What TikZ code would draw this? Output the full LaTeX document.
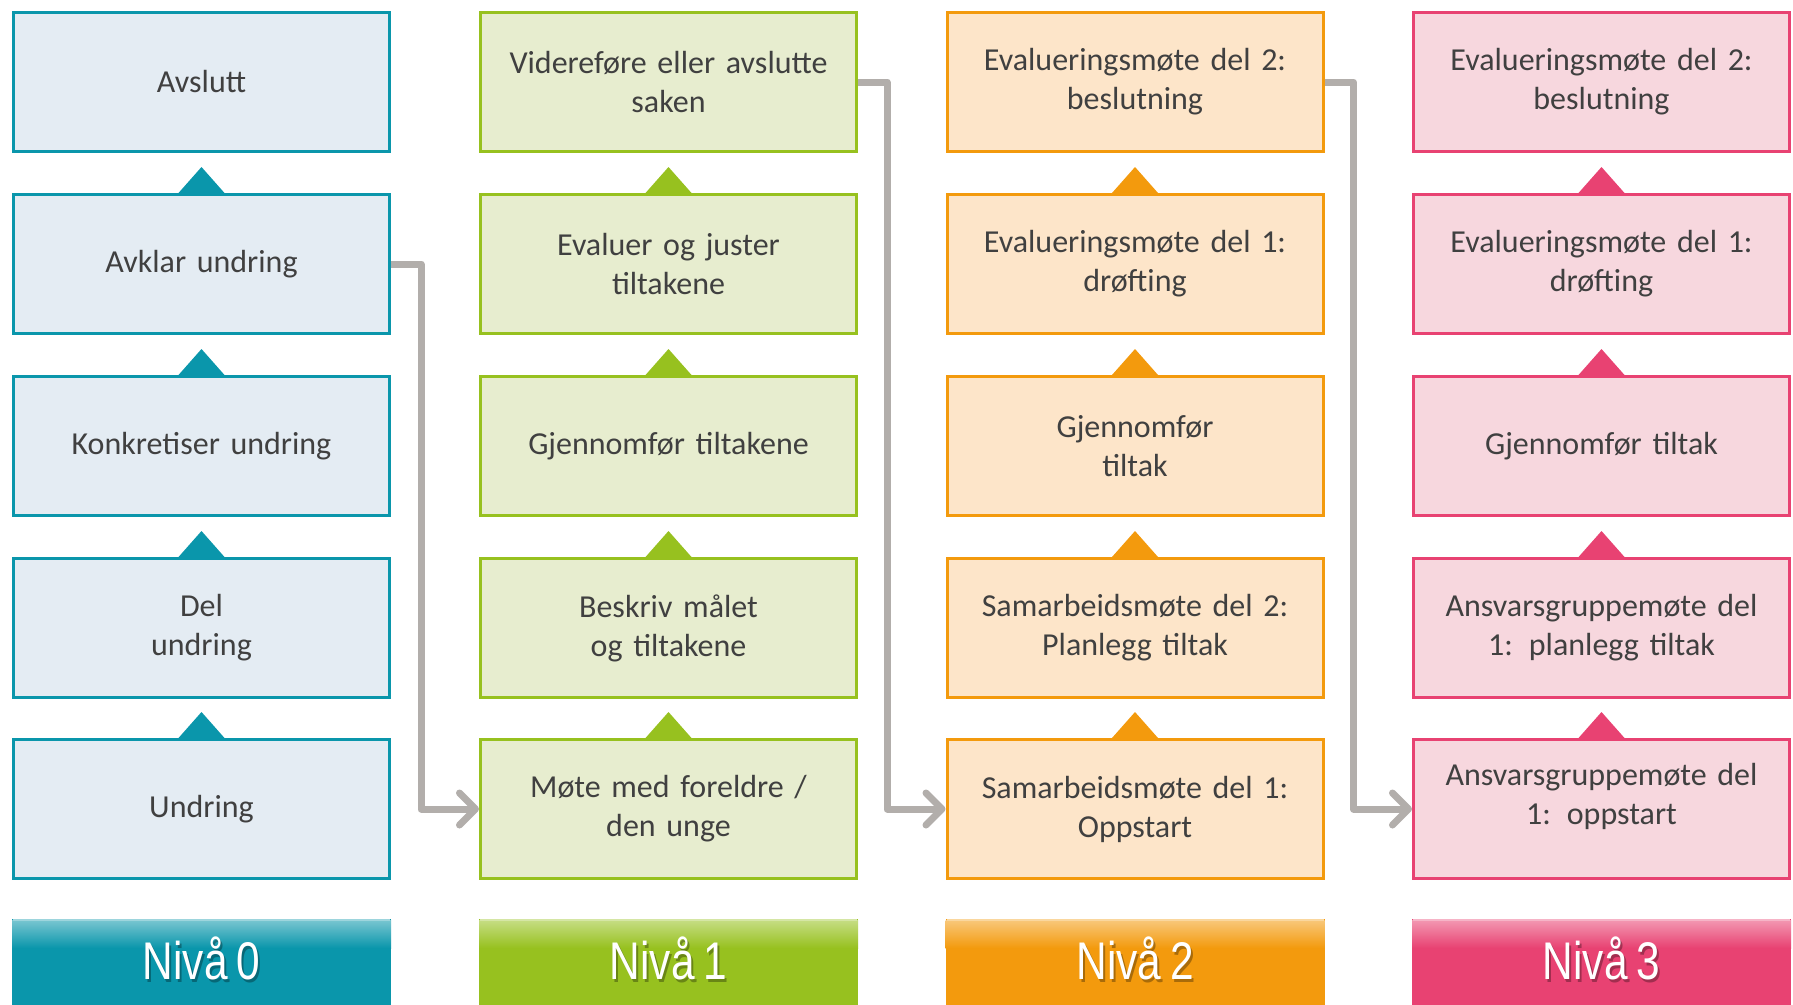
\documentclass[tikz,border=0pt]{standalone}
\usepackage{fontspec}
\setmainfont{Carlito}
\newfontfamily\hdrfont[FakeStretch=0.8]{Liberation Sans}
\usetikzlibrary{arrows.meta}
\definecolor{tealB}{HTML}{0A96AB}
\definecolor{tealF}{HTML}{E4ECF3}
\definecolor{greenB}{HTML}{97C11F}
\definecolor{greenF}{HTML}{E7EDCF}
\definecolor{orangeB}{HTML}{F39A0D}
\definecolor{orangeF}{HTML}{FDE5C9}
\definecolor{pinkB}{HTML}{E84272}
\definecolor{pinkF}{HTML}{F7D7DE}
\definecolor{conn}{HTML}{B2AEAB}
\definecolor{txt}{HTML}{404040}
\begin{document}
\begin{tikzpicture}[x=1pt,y=-1pt,
  stepbox/.style={draw=#1B, fill=#1F, line width=3pt, minimum width=376pt,
    minimum height=139pt, inner sep=0pt, text width=360pt, align=center,
    font=\fontsize{32}{39}\selectfont, text=txt},
  uptri/.style={fill=#1B},
  hdr/.style={fill=#1B, draw=none},
  hdrtext/.style={font=\hdrfont\fontsize{53}{58}\selectfont, text=white, inner sep=0pt},
  hdrshadow/.style={font=\hdrfont\fontsize{53}{58}\selectfont, text=black, opacity=0.3, inner sep=0pt},
  connline/.style={draw=conn, line width=7pt, line join=round,
    -{Straight Barb[length=16pt, width=32pt, round]}}
]
\useasboundingbox (0,0) rectangle (1793,1004);
\fill[white] (0,0) rectangle (1793,1004);

% column 0
\node[stepbox=teal] (a0) at (201.5,82) {Avslutt};
\node[stepbox=teal] (a1) at (201.5,264) {Avklar undring};
\node[stepbox=teal] (a2) at (201.5,446) {Konkretiser undring};
\node[stepbox=teal] (a3) at (201.5,628) {Del\\undring};
\node[stepbox=teal] (a4) at (201.5,809) {Undring};
% column 1
\node[stepbox=green] (b0) at (668.5,82) {Videreføre eller avslutte\\saken};
\node[stepbox=green] (b1) at (668.5,264) {Evaluer og juster\\tiltakene};
\node[stepbox=green] (b2) at (668.5,446) {Gjennomfør tiltakene};
\node[stepbox=green] (b3) at (668.5,628) {Beskriv målet\\og tiltakene};
\node[stepbox=green] (b4) at (668.5,809) {Møte med foreldre /\\den unge};
% column 2
\node[stepbox=orange] (c0) at (1135,82) {Evalueringsmøte del 2:\\beslutning};
\node[stepbox=orange] (c1) at (1135,264) {Evalueringsmøte del 1:\\drøfting};
\node[stepbox=orange] (c2) at (1135,446) {Gjennomfør\\tiltak};
\node[stepbox=orange] (c3) at (1135,628) {Samarbeidsmøte del 2:\\Planlegg tiltak};
\node[stepbox=orange] (c4) at (1135,809) {Samarbeidsmøte del 1:\\Oppstart};
% column 3
\node[stepbox=pink] (d0) at (1601.5,82) {Evalueringsmøte del 2:\\beslutning};
\node[stepbox=pink] (d1) at (1601.5,264) {Evalueringsmøte del 1:\\drøfting};
\node[stepbox=pink] (d2) at (1601.5,446) {Gjennomfør tiltak};
\node[stepbox=pink] (d3) at (1601.5,628) {Ansvarsgruppemøte del\\1: planlegg tiltak};
\node[stepbox=pink] (d4) at (1601.5,809) {Ansvarsgruppemøte del\\1: oppstart\\[-8pt]\mbox{}};

% triangles
\foreach \col/\c in {a/teal,b/green,c/orange,d/pink}{
  \foreach \r in {1,2,3,4}{
    \fill[uptri=\c] ([xshift=-23pt]\col\r.north) -- ([yshift=26pt]\col\r.north) -- ([xshift=23pt]\col\r.north) -- cycle;
  }
}

% connectors
\draw[connline] (a1.east) -- ++(30,0) |- (b4.west);
\draw[connline] (b0.east) -- ++(29,0) |- (c4.west);
\draw[connline] (c0.east) -- ++(29,0) |- (d4.west);

% headers
\foreach \x/\c/\n in {201.5/teal/0,668.5/green/1,1135/orange/2,1601.5/pink/3}{
  \fill[hdr=\c] (\x-189.5,919) rectangle (\x+189.5,1010);
  \shade[top color=\c B!55!white, bottom color=\c B] (\x-189.5,920) rectangle (\x+189.5,948);
  \draw[\c B!40!white, line width=2pt] (\x-188.5,920) -- (\x+188.5,920);
  \node[hdrshadow] (hs\n) at (\x+2,961) {Nivå\,\n};
  \node[hdrtext] (ht\n) at (\x,958) {Nivå\,\n};
}
\end{tikzpicture}
\end{document}
